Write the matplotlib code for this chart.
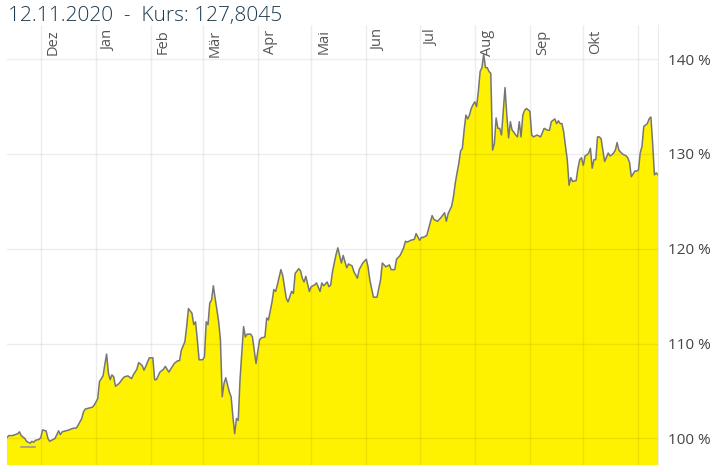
import matplotlib
matplotlib.use("Agg")
import matplotlib.pyplot as plt
import matplotlib.transforms as mtransforms
import pandas as pd

plt.rcParams['font.family'] = ['Open Sans', 'DejaVu Sans']

# performance indexed to 100 % on the start day, days counted from start_date
start_date = "2019-11-12"
days = [
    0, 1, 3, 6, 7, 8, 10, 11, 13, 14, 15, 16, 18, 19, 20, 22, 23, 24, 25, 27,
    28, 29, 30, 31, 33, 35, 36, 38, 39, 40, 42, 43, 44, 46, 48, 49, 51, 52, 54, 55,
    56, 57, 58, 59, 60, 61, 63, 65, 66, 68, 70, 71, 73, 74, 76, 77, 78, 80, 82, 83,
    84, 86, 88, 89, 91, 92, 94, 96, 97, 98, 100, 101, 102, 104, 105, 106, 107, 108, 110, 111,
    112, 113, 114, 115, 116, 117, 118, 119, 120, 121, 122, 123, 125, 126, 127, 128, 129, 130, 131, 133,
    134, 135, 137, 138, 140, 141, 142, 143, 145, 146, 147, 149, 150, 151, 152, 154, 155, 157, 158, 160,
    161, 162, 164, 165, 166, 167, 168, 170, 171, 173, 174, 176, 177, 178, 180, 181, 182, 183, 184, 185,
    186, 188, 189, 191, 192, 194, 195, 197, 198, 200, 202, 203, 204, 206, 208, 210, 211, 213, 215, 216,
    218, 219, 221, 223, 224, 225, 227, 229, 230, 232, 233, 234, 236, 239, 240, 242, 244, 246, 247, 248,
    249, 250, 251, 252, 253, 254, 255, 256, 257, 258, 259, 260, 261, 262, 263, 264, 265, 266, 267, 268,
    269, 270, 271, 272, 273, 274, 275, 276, 277, 278, 279, 280, 281, 282, 283, 284, 285, 286, 287, 288,
    289, 290, 291, 292, 294, 295, 296, 298, 300, 302, 304, 305, 306, 308, 309, 310, 311, 312, 313, 314,
    315, 316, 317, 318, 320, 321, 322, 323, 324, 325, 326, 327, 328, 329, 330, 331, 332, 333, 334, 335,
    336, 338, 339, 340, 341, 342, 343, 344, 346, 348, 349, 350, 351, 353, 354, 355, 356, 357, 358, 360,
    361, 362, 363, 364, 365, 366,
]
values = [
    100.1, 100.3, 100.3, 100.5, 100.7, 100.3, 100.0, 99.7, 99.5, 99.7, 99.6, 99.8, 99.9, 100.1, 100.9, 100.8, 100.0, 99.7, 99.8, 100.0,
    100.4, 100.8, 100.4, 100.7, 100.8, 100.9, 101.0, 101.1, 101.1, 101.4, 102.1, 102.8, 103.1, 103.2, 103.3, 103.5, 104.2, 106.0, 106.6, 107.8,
    108.9, 106.9, 106.2, 106.7, 106.5, 105.5, 105.8, 106.3, 106.5, 106.6, 106.3, 106.7, 107.3, 108.0, 107.7, 107.2, 107.6, 108.5, 108.5, 106.2,
    106.2, 107.0, 107.3, 107.6, 107.0, 107.3, 107.9, 108.2, 108.2, 109.3, 110.2, 111.8, 113.7, 113.2, 112.0, 112.3, 110.4, 108.3, 108.3, 108.6,
    112.3, 112.0, 114.3, 114.6, 116.1, 114.8, 113.6, 112.3, 110.4, 104.4, 105.8, 106.4, 104.9, 104.4, 102.3, 100.5, 102.1, 101.9, 106.2, 111.8,
    110.7, 111.0, 111.0, 110.7, 107.9, 109.2, 110.4, 110.6, 110.7, 112.7, 112.5, 114.4, 115.7, 115.5, 116.2, 117.8, 117.2, 114.8, 114.4, 115.5,
    115.3, 117.4, 117.9, 117.7, 116.9, 116.5, 117.1, 115.5, 116.0, 116.2, 116.4, 115.5, 116.4, 116.1, 116.5, 116.0, 116.2, 117.6, 118.5, 119.4,
    120.1, 118.5, 119.3, 118.0, 118.4, 118.2, 117.6, 116.9, 117.8, 118.5, 118.9, 118.1, 116.7, 114.9, 114.9, 116.7, 118.5, 118.1, 118.3, 117.8,
    117.8, 118.9, 119.3, 120.1, 120.8, 120.7, 120.9, 121.0, 121.6, 120.9, 121.2, 121.2, 121.4, 123.5, 123.1, 122.9, 123.3, 123.8, 122.9, 123.7,
    124.1, 124.5, 125.5, 126.9, 128.0, 129.0, 130.3, 130.6, 132.5, 134.1, 133.7, 134.1, 134.8, 135.2, 135.5, 135.0, 136.6, 138.7, 139.1, 140.5,
    139.1, 139.1, 138.7, 138.5, 130.4, 131.1, 133.8, 132.7, 132.7, 132.0, 134.5, 137.0, 134.1, 131.7, 133.4, 132.5, 132.3, 132.0, 131.8, 133.4,
    131.8, 134.1, 134.6, 134.8, 134.5, 132.0, 131.8, 132.0, 131.8, 132.7, 132.5, 132.5, 133.4, 133.7, 133.2, 133.5, 133.2, 133.2, 132.3, 130.8,
    129.4, 126.7, 127.5, 127.1, 127.2, 128.5, 129.4, 129.6, 128.8, 129.8, 129.9, 130.1, 130.6, 128.5, 129.4, 129.4, 131.8, 131.8, 131.6, 130.4,
    129.2, 130.1, 129.8, 129.9, 130.1, 130.4, 131.2, 130.4, 130.0, 129.8, 129.6, 129.1, 127.6, 128.2, 128.2, 128.3, 130.1, 130.8, 132.9, 133.2,
    133.7, 133.9, 131.1, 127.8, 128.0, 127.8045,
]

month_labels = ['Dez', 'Jan', 'Feb', 'Mär', 'Apr', 'Mai', 'Jun', 'Jul', 'Aug', 'Sep', 'Okt']
month_starts = pd.date_range("2019-12-01", "2020-11-01", freq="MS")
y_ticks = [100, 110, 120, 130, 140]
title = "12.11.2020  -  Kurs: 127,8045"

# small low-marker segment in the lower left
low_days = [8, 16]
low_value = 99.1

dates = pd.Timestamp(start_date) + pd.to_timedelta(days, unit="D")
low_dates = pd.Timestamp(start_date) + pd.to_timedelta(low_days, unit="D")

fig = plt.figure(figsize=(7.25, 4.72), dpi=100)
ax = fig.add_axes([7 / 725, 7 / 472, 651 / 725, 440 / 472])

ax.set_ylim(97.2, 143.6)
ax.set_xlim(dates[0], dates[-1])

ax.fill_between(dates, values, 90, color='#fff200', lw=0, zorder=1)
ax.plot(dates, values, color='#767676', lw=1.1, zorder=3)
ax.plot(low_dates, [low_value, low_value], color='#9a9a9a', lw=1.2, zorder=3)

ax.set_axisbelow(False)
ax.set_xticks(month_starts)
ax.set_xticklabels([])
ax.grid(True, color='black', alpha=0.07, lw=1)

ax.yaxis.tick_right()
ax.set_yticks(y_ticks)
ax.set_yticklabels([f"{v} %" for v in y_ticks])
ax.tick_params(axis='both', length=0)
ax.tick_params(axis='y', pad=7, labelsize=11, labelcolor='#444444')

for name, spine in ax.spines.items():
    spine.set_visible(name == 'right')
ax.spines['right'].set_color('#ebebeb')

# month names, rotated, inside the top of the plot
trans = mtransforms.blended_transform_factory(ax.transData, ax.transAxes)
trans = trans + mtransforms.ScaledTranslation(5 / 100, 0, fig.dpi_scale_trans)
for d, lab in zip(month_starts, month_labels):
    ax.text(d, 0.99, lab, transform=trans, rotation=90, ha='left', va='top',
            fontsize=10.5, color='#555555', zorder=4)

fig.text(8 / 725, 1 - 21 / 472, title, fontsize=15, color='#1f3a4d',
         va='baseline', ha='left', fontweight='light')

fig.savefig('out.png', dpi=100)
